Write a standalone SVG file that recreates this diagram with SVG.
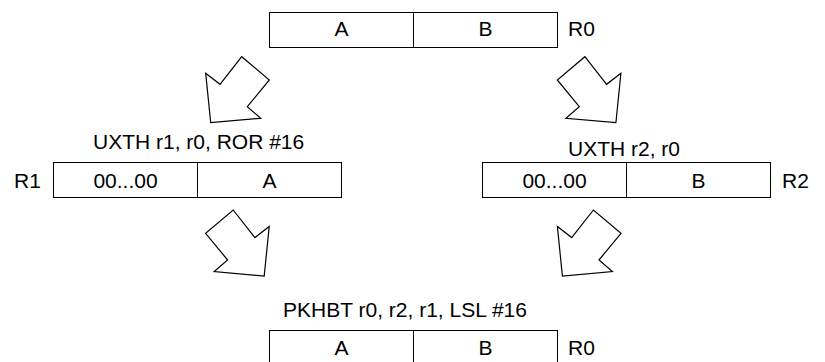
<svg xmlns="http://www.w3.org/2000/svg" xmlns:xlink="http://www.w3.org/1999/xlink" width="825" height="362" viewBox="0 0 825 362">
<style>
text{font-family:"Liberation Sans",Arial,sans-serif;font-size:21px;fill:#000}
.c{text-anchor:middle}
.box{fill:#fff;stroke:#000;stroke-width:1}
.div{stroke:#000;stroke-width:1}
.arrow{fill:#fff;stroke:#000;stroke-width:1.2;stroke-linejoin:miter}
</style>
<defs>
<polygon id="blk" class="arrow" points="205.7,73.3 220,84.3 241.7,56.7 269.3,80 247.3,106.7 260.7,118.3 210.7,122.7"/>
</defs>
<rect width="825" height="362" fill="#fff"/>
<g id="connectors">
<use xlink:href="#blk"/>
<use xlink:href="#blk" transform="matrix(-1 0 0 1 826.6 0)"/>
<use xlink:href="#blk" transform="matrix(-1 0 0 1 474.9 153.3)"/>
<use xlink:href="#blk" transform="translate(351.7 153.3)"/>
</g>
<g id="r0-top">
<rect class="box" x="269.5" y="12.5" width="288" height="35"/>
<line class="div" x1="413.5" y1="12.5" x2="413.5" y2="47.5"/>
<text class="c" x="341.5" y="36">A</text>
<text class="c" x="485.5" y="36">B</text>
<text x="568" y="36">R0</text>
</g>
<g id="r1">
<text x="93" y="149">UXTH r1, r0, ROR #16</text>
<rect class="box" x="53.5" y="162.5" width="288" height="35"/>
<line class="div" x1="197.5" y1="162.5" x2="197.5" y2="197.5"/>
<text class="c" x="125.5" y="188">00...00</text>
<text class="c" x="269.5" y="188">A</text>
<text x="14" y="188">R1</text>
</g>
<g id="r2">
<text x="568" y="156">UXTH r2, r0</text>
<rect class="box" x="482.5" y="162.5" width="288" height="35"/>
<line class="div" x1="626.5" y1="162.5" x2="626.5" y2="197.5"/>
<text class="c" x="554.5" y="188">00...00</text>
<text class="c" x="698.5" y="188">B</text>
<text x="782" y="188">R2</text>
</g>
<g id="r0-bottom">
<text x="283" y="317">PKHBT r0, r2, r1, LSL #16</text>
<rect class="box" x="269.5" y="330.5" width="288" height="35"/>
<line class="div" x1="413.5" y1="330.5" x2="413.5" y2="365.5"/>
<text class="c" x="341.5" y="355">A</text>
<text class="c" x="485.5" y="355">B</text>
<text x="568" y="355">R0</text>
</g>
</svg>
